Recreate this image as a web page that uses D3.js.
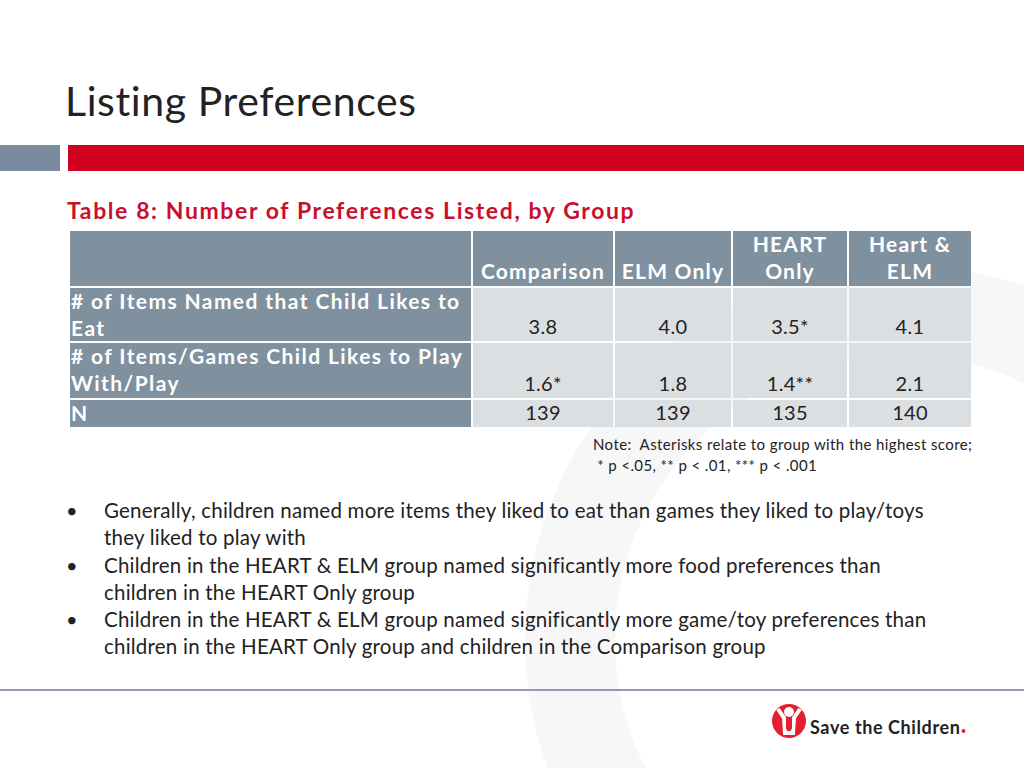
<!DOCTYPE html>
<html><head><meta charset="utf-8">
<script src="https://cdn.jsdelivr.net/npm/d3@7"></script>
<style>body{margin:0;background:#fff}svg{display:block}</style>
</head><body>
<script>
// table data
let groups = ["Comparison", "ELM Only", "HEART Only", "Heart & ELM"];
let headerLines = [["Comparison"], ["ELM Only"], ["HEART", "Only"], ["Heart &", "ELM"]];
let rowLabels = [["# of Items Named that Child Likes to", "Eat"], ["# of Items/Games Child Likes to Play", "With/Play"], ["N"]];
let foodValues = ["3.8", "4.0", "3.5*", "4.1"];
let playValues = ["1.6*", "1.8", "1.4**", "2.1"];
let nValues = ["139", "139", "135", "140"];
let bullets = [
	["Generally, children named more items they liked to eat than games they liked to play/toys", "they liked to play with"],
	["Children in the HEART & ELM group named significantly more food preferences than", "children in the HEART Only group"],
	["Children in the HEART & ELM group named significantly more game/toy preferences than", "children in the HEART Only group and children in the Comparison group"]
];

let font = "Lato, 'Open Sans', sans-serif";
let svg = d3.select("body").append("svg").attr("width", 1024).attr("height", 768)
	.style("font-family", font);

// faint watermark circle
svg.append("circle").attr("cx", 900).attr("cy", 640).attr("r", 330)
	.attr("fill", "none").attr("stroke", "#f7f7f7").attr("stroke-width", 90);

svg.append("text").attr("x", 65).attr("y", 116).attr("font-size", 41).attr("letter-spacing", 0.6)
	.attr("fill", "#222").text("Listing Preferences");

svg.append("rect").attr("x", 0).attr("y", 145).attr("width", 60).attr("height", 26).attr("fill", "#7a8ba0");
svg.append("rect").attr("x", 68).attr("y", 145).attr("width", 956).attr("height", 26).attr("fill", "#d2001f");

svg.append("text").attr("x", 67).attr("y", 219).attr("font-size", 23).attr("font-weight", "bold")
	.attr("letter-spacing", 1.6).attr("fill", "#c8102e").text("Table 8: Number of Preferences Listed, by Group");

// columns: label column then group columns
let colWidths = [403, 142, 118, 116, 124];
let colX = d3.cumsum([70].concat(colWidths));
let x = d3.scaleOrdinal().domain(["label"].concat(groups)).range(colX);
let w = d3.scaleOrdinal().domain(["label"].concat(groups)).range(colWidths);

let rowHeights = [57, 55, 57, 29];
let rowY = d3.cumsum([231].concat(rowHeights));
let rows = [
	{label: [], values: headerLines, header: true},
	{label: rowLabels[0], values: foodValues.map(v => [v])},
	{label: rowLabels[1], values: playValues.map(v => [v])},
	{label: rowLabels[2], values: nValues.map(v => [v])}
];

let grey = "#7f909e", light = "#dcdfe2";
rows.forEach((r, i) => {
	let y0 = rowY[i], h = rowHeights[i];
	svg.append("rect").attr("x", x("label")).attr("y", y0).attr("width", w("label") - 2).attr("height", h - 2).attr("fill", grey);
	svg.append("text").attr("x", x("label") + 1).attr("font-size", 21).attr("font-weight", "bold").attr("fill", "#fff")
		.attr("letter-spacing", 1.4)
		.selectAll("tspan").data(r.label).join("tspan")
		.attr("x", x("label") + 1).attr("y", (d, k) => y0 + 21 + k * 27).text(d => d);
	groups.forEach((g, j) => {
		svg.append("rect").attr("x", x(g)).attr("y", y0).attr("width", w(g) - 2).attr("height", h - 2)
			.attr("fill", r.header ? grey : light);
		let lines = r.values[j];
		svg.append("text").attr("text-anchor", "middle").attr("font-size", r.header ? 21 : 20)
			.attr("letter-spacing", r.header ? 1.2 : 0.3)
			.attr("font-weight", r.header ? "bold" : "normal").attr("fill", r.header ? "#fff" : "#222")
			.selectAll("tspan").data(lines).join("tspan")
			.attr("x", x(g) + (w(g) - 2) / 2)
			.attr("y", (d, k) => y0 + h - 9 - (lines.length - 1 - k) * 27).text(d => d);
	});
});

svg.append("text").attr("font-size", 15).attr("fill", "#222").attr("letter-spacing", 0.4)
	.selectAll("tspan").data(["Note:  Asterisks relate to group with the highest score;", " * p <.05, ** p < .01, *** p < .001"]).join("tspan")
	.attr("x", 593).attr("y", (d, k) => 450 + k * 21).attr("xml:space", "preserve").text(d => d);

bullets.forEach((b, i) => {
	let y0 = 518 + i * 54.5;
	svg.append("text").attr("x", 66).attr("y", y0).attr("font-size", 20).attr("fill", "#222").text("•");
	svg.append("text").attr("font-size", 20.5).attr("fill", "#222").attr("letter-spacing", 0.22)
		.selectAll("tspan").data(b).join("tspan")
		.attr("x", 104).attr("y", (d, k) => y0 + k * 27).text(d => d);
});

svg.append("line").attr("x1", 0).attr("x2", 1024).attr("y1", 690).attr("y2", 690)
	.attr("stroke", "#8f9ab8").attr("stroke-width", 2);

// logo
let logo = svg.append("g").attr("transform", "translate(789,721)");
logo.append("circle").attr("r", 17).attr("fill", "#e4202e");
logo.append("circle").attr("cx", 0).attr("cy", -9).attr("r", 5).attr("fill", "#fff");
logo.append("path").attr("d", "M-11,-12 L-5,-3 L-4,12 L4,12 L5,-3 L11,-12").attr("fill", "none").attr("stroke", "#fff").attr("stroke-width", 4);
logo.append("path").attr("d", "M-3,-2 L3,-2 L3,8 L-3,8Z").attr("fill", "#e4202e");
let brand = svg.append("text").attr("x", 810).attr("y", 734).attr("font-size", 18).attr("font-weight", "bold")
	.attr("letter-spacing", 0.6).attr("fill", "#222").text("Save the Children");
let bw = brand.node().getComputedTextLength();
svg.append("circle").attr("cx", 810 + bw + 3).attr("cy", 731).attr("r", 2).attr("fill", "#e4202e");
</script>
</body></html>
